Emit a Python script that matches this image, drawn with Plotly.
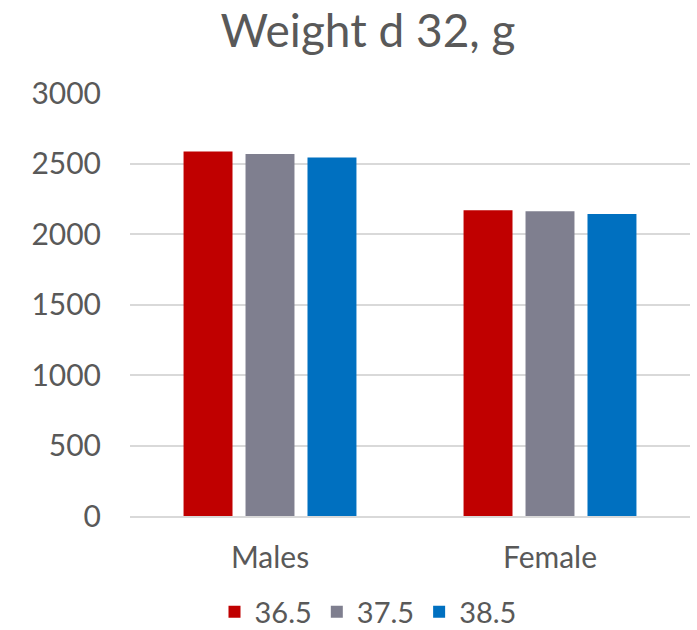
import plotly.graph_objects as go

categories = ["Males", "Female"]
series_names = ["36.5", "37.5", "38.5"]
values_365 = [2585, 2168]
values_375 = [2568, 2161]
values_385 = [2543, 2142]
colors = ["#C00000", "#7F7F8F", "#0070C0"]

y_ticks = [0, 500, 1000, 1500, 2000, 2500, 3000]

FONT = "Lato"
TEXT = "#595959"

fig = go.Figure()
for name, vals, col in zip(series_names, [values_365, values_375, values_385], colors):
    fig.add_trace(go.Bar(x=categories, y=vals, name=name, marker_color=col,
                         marker_line_width=0))

fig.update_layout(
    width=697, height=630,
    margin=dict(l=130, r=7, t=93, b=114, autoexpand=False),
    paper_bgcolor="white", plot_bgcolor="white",
    barmode="group", bargap=0.336, bargroupgap=0.21,
    font=dict(family=FONT, color=TEXT, size=29),
    title=dict(text="Weight d 32, g", x=0.528, xanchor="center",
               y=0.951, yanchor="middle", yref="container",
               font=dict(family=FONT, size=46, color=TEXT)),
    legend=dict(orientation="h", x=0.425, xanchor="center", y=-0.227,
                yanchor="middle", font=dict(size=29, color=TEXT),
                itemwidth=30, traceorder="normal"),
    showlegend=True,
)
fig.update_yaxes(range=[0, 3000], tickvals=y_ticks, showgrid=True,
                 gridcolor="#D9D9D9", gridwidth=1.5, zeroline=False,
                 showline=False, ticks="", ticklabelstandoff=28,
                 tickfont=dict(size=30, color=TEXT))
fig.update_xaxes(showline=True, linecolor="#D9D9D9", linewidth=1.5,
                 ticks="", ticklabelstandoff=14,
                 tickfont=dict(size=30, color=TEXT))

fig.write_html("out.html")
